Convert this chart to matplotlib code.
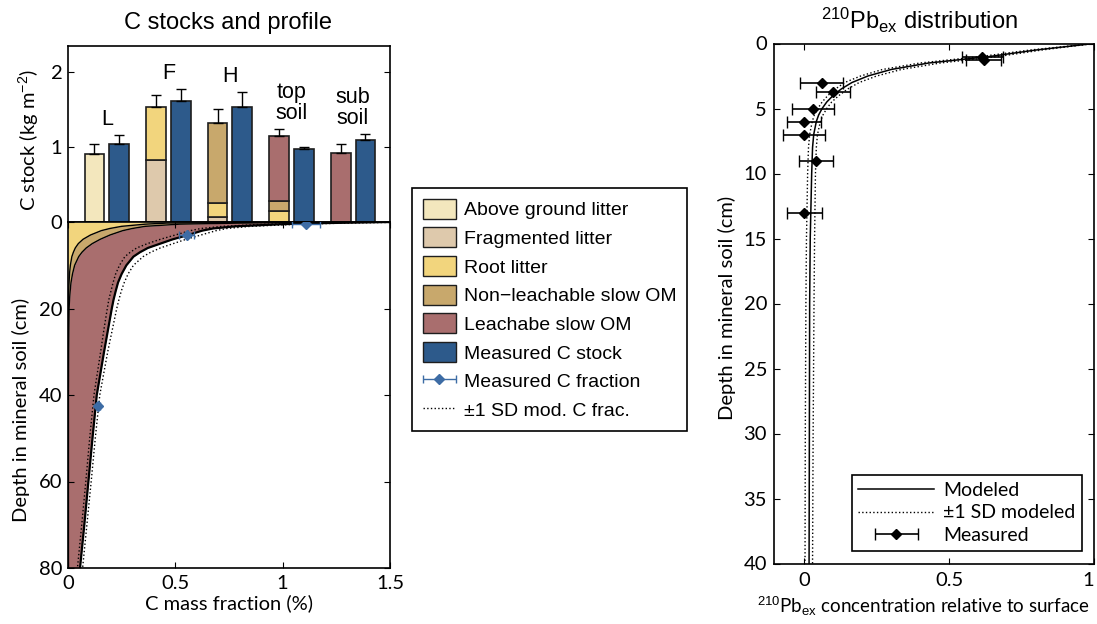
import matplotlib
matplotlib.use('Agg')
import matplotlib.pyplot as plt
from matplotlib.patches import Patch
from matplotlib.lines import Line2D
from matplotlib.legend_handler import HandlerErrorbar
import numpy as np

plt.rcParams['font.family'] = ['Lato', 'DejaVu Sans']
plt.rcParams['font.size'] = 14.5
plt.rcParams['mathtext.fontset'] = 'custom'
plt.rcParams['mathtext.rm'] = 'Liberation Sans'
plt.rcParams['mathtext.it'] = 'Liberation Sans:italic'
plt.rcParams['axes.linewidth'] = 1.2
plt.rcParams['xtick.direction'] = 'in'
plt.rcParams['ytick.direction'] = 'in'
plt.rcParams['xtick.major.size'] = 4
plt.rcParams['ytick.major.size'] = 4
plt.rcParams['xtick.major.pad'] = 5
plt.rcParams['ytick.major.pad'] = 4

ARIAL = 'Liberation Sans'

# ---- C stocks (kg m-2) per horizon ----
groups = ['L', 'F', 'H', 'top\nsoil', 'sub\nsoil']
above_ground = [0.91, 0.0, 0.0, 0.0, 0.0]
fragmented = [0.0, 0.83, 0.07, 0.0, 0.0]
root_litter = [0.0, 0.70, 0.185, 0.15, 0.0]
nonleach_om = [0.0, 0.0, 1.07, 0.13, 0.0]
leach_om = [0.0, 0.0, 0.0, 0.87, 0.925]
model_err = [0.13, 0.17, 0.18, 0.095, 0.11]
meas_stock = [1.035, 1.61, 1.535, 0.97, 1.10]
meas_err = [0.13, 0.16, 0.20, 0.035, 0.07]

# ---- modelled C mass fraction profile (%) ----
depth_c = [0, 0.25, 0.5, 1, 1.5, 2, 3, 4, 5, 6, 7, 8, 10, 12, 14, 16, 18, 20, 25, 30, 40, 50, 60, 70, 80]
cum_root = [1.1, 0.46, 0.36, 0.25, 0.195, 0.155, 0.105, 0.07, 0.048, 0.034, 0.025, 0.018, 0.011, 0.007,
            0.005, 0.003, 0.002, 0.002, 0.001, 0.001, 0.001, 0.001, 0.001, 0.001, 0.001]
cum_nonleach = [1.3, 0.8, 0.52, 0.36, 0.30, 0.255, 0.196, 0.15, 0.113, 0.085, 0.065, 0.05, 0.031, 0.021,
                0.014, 0.01, 0.007, 0.005, 0.004, 0.003, 0.002, 0.002, 0.002, 0.002, 0.002]
c_total = [1.5, 1.2, 1.0, 0.78, 0.675, 0.625, 0.56, 0.488, 0.43, 0.372, 0.335, 0.305, 0.272, 0.25,
           0.233, 0.222, 0.212, 0.204, 0.186, 0.168, 0.134, 0.114, 0.095, 0.076, 0.056]
c_lo = [1.4, 1.1, 0.92, 0.72, 0.62, 0.57, 0.50, 0.43, 0.37, 0.32, 0.29, 0.265, 0.24, 0.222,
        0.21, 0.20, 0.19, 0.183, 0.167, 0.152, 0.121, 0.101, 0.083, 0.064, 0.044]
c_hi = [1.6, 1.3, 1.08, 0.85, 0.74, 0.69, 0.62, 0.55, 0.49, 0.43, 0.385, 0.35, 0.305, 0.28,
        0.262, 0.248, 0.237, 0.227, 0.206, 0.185, 0.148, 0.127, 0.108, 0.088, 0.068]
cfrac_meas = [1.11, 0.553, 0.141]
cfrac_depth = [0.4, 3.0, 42.5]
cfrac_err = [0.065, 0.035, 0.01]

# ---- 210Pb_ex ----
depth_pb = [0, 0.5, 1, 1.5, 2, 2.5, 3, 3.5, 4, 4.5, 5, 5.5, 6, 7, 8, 10, 15, 20, 30, 40]
pb_model = [1.0, 0.80, 0.64, 0.43, 0.30, 0.22, 0.165, 0.128, 0.10, 0.078, 0.062, 0.05, 0.042, 0.033,
            0.029, 0.026, 0.021, 0.019, 0.018, 0.017]
pb_hi = [1.0, 0.82, 0.67, 0.47, 0.335, 0.25, 0.19, 0.15, 0.12, 0.095, 0.078, 0.065, 0.056, 0.046,
         0.042, 0.039, 0.036, 0.034, 0.031, 0.029]
pb_lo = [1.0, 0.78, 0.61, 0.40, 0.27, 0.195, 0.14, 0.108, 0.082, 0.062, 0.047, 0.035, 0.028, 0.019,
         0.015, 0.012, 0.008, 0.006, 0.004, 0.003]
pb_meas = [0.615, 0.62, 0.06, 0.10, 0.03, 0.0, 0.0, 0.04, 0.0]
pb_meas_depth = [1.0, 1.25, 3.0, 3.7, 5.0, 6.0, 7.0, 9.0, 13.0]
pb_meas_err = [0.072, 0.06, 0.073, 0.059, 0.072, 0.058, 0.073, 0.059, 0.06]

col_above = '#f3e7bd'
col_frag = '#dec9ac'
col_root = '#f2d57d'
col_nonleach = '#c8a86c'
col_leach = '#a96e6e'
col_meas = '#2d5a8b'
col_frac = '#3d6ca5'
edge = '#1e1e1e'

W, H = 1097, 624
fig = plt.figure(figsize=(W / 100, H / 100), dpi=100)
ax_bar = fig.add_axes([68 / W, 1 - 222 / H, 322 / W, 176 / H])
ax_pro = fig.add_axes([68 / W, 1 - 568 / H, 322 / W, 346 / H])
ax_pb = fig.add_axes([774 / W, 1 - 563.5 / H, 320 / W, 520 / H])

# stacked modelled bars + measured bars
x = np.arange(len(groups))
bw = 0.32
bottom = np.zeros(len(groups))
for vals, col in [(above_ground, col_above), (fragmented, col_frag), (root_litter, col_root),
                  (nonleach_om, col_nonleach), (leach_om, col_leach)]:
    vals = np.array(vals)
    m = vals > 0
    ax_bar.bar(x[m] - 0.2, vals[m], bw, bottom=bottom[m], color=col, edgecolor=edge, lw=1.2)
    bottom += vals
ax_bar.errorbar(x - 0.2, bottom, yerr=[np.zeros(len(groups)), model_err], fmt='none',
                ecolor='k', elinewidth=1, capsize=3.5)
ax_bar.bar(x + 0.2, meas_stock, bw, color=col_meas, edgecolor=edge, lw=1.2)
ax_bar.errorbar(x + 0.2, meas_stock, yerr=[np.zeros(len(groups)), meas_err], fmt='none',
                ecolor='k', elinewidth=1, capsize=3.5)
tops = np.maximum(bottom + np.array(model_err), np.array(meas_stock) + np.array(meas_err))
for i, g in enumerate(groups):
    ax_bar.text(x[i], tops[i] + 0.07, g, ha='center', va='bottom', family=ARIAL, fontsize=15.5,
                linespacing=1.0)
ax_bar.set_xlim(-0.63, 4.6)
ax_bar.set_ylim(0, 2.35)
ax_bar.set_yticks([0, 1, 2])
ax_bar.tick_params(axis='x', bottom=False, labelbottom=False)
ax_bar.tick_params(axis='y', right=True)

# profile
ax_pro.fill_betweenx(depth_c, 0, cum_root, color=col_root, lw=0)
ax_pro.fill_betweenx(depth_c, cum_root, cum_nonleach, color=col_nonleach, lw=0)
ax_pro.fill_betweenx(depth_c, cum_nonleach, c_total, color=col_leach, lw=0)
ax_pro.plot(cum_root, depth_c, color='k', lw=1)
ax_pro.plot(cum_nonleach, depth_c, color='k', lw=1)
ax_pro.plot(c_total, depth_c, color='k', lw=1.6)
ax_pro.plot(c_lo, depth_c, color='k', lw=1, ls=':')
ax_pro.plot(c_hi, depth_c, color='k', lw=1, ls=':')
eb_frac = ax_pro.errorbar(cfrac_meas, cfrac_depth, xerr=cfrac_err, fmt='D', color=col_frac,
                          ms=5.5, capsize=3, elinewidth=1, zorder=5)
ax_pro.set_xlim(0, 1.5)
ax_pro.set_ylim(80, 0)
ax_pro.set_xticks([0, 0.5, 1, 1.5])
ax_pro.set_xticklabels(['0', '0.5', '1', '1.5'])
ax_pro.set_yticks([0, 20, 40, 60, 80])
ax_pro.set_yticklabels(['', '20', '40', '60', '80'])
ax_pro.tick_params(top=True, right=True)

# 210Pb panel
ax_pb.plot(pb_model, depth_pb, color='k', lw=1.1)
ax_pb.plot(pb_lo, depth_pb, color='k', lw=1, ls=':')
ax_pb.plot(pb_hi, depth_pb, color='k', lw=1, ls=':')
eb_pb = ax_pb.errorbar(pb_meas, pb_meas_depth, xerr=pb_meas_err, fmt='D', color='k', ms=5,
                       capsize=4.3, elinewidth=1.2)
ax_pb.set_xlim(-0.104, 1.0)
ax_pb.set_ylim(40, 0)
ax_pb.set_xticks([0, 0.5, 1])
ax_pb.set_xticklabels(['0', '0.5', '1'])
ax_pb.set_yticks(range(0, 41, 5))
ax_pb.tick_params(top=True, right=True)
ax_pb.tick_params(axis='x', pad=6)
ax_pb.tick_params(axis='y', pad=5)
ax_pb.get_xticklabels()[-1].set_horizontalalignment('right')

# labels
fig.text(228 / W, 1 - 29 / H, 'C stocks and profile', ha='center', va='baseline', family=ARIAL, fontsize=17)
fig.text(920 / W, 1 - 29 / H, r'$^{210}$Pb$_{\mathrm{ex}}$ distribution', ha='center', va='baseline',
         family=ARIAL, fontsize=17)
fig.text(229 / W, 1 - 609 / H, 'C mass fraction (%)', ha='center', va='baseline')
fig.text(923 / W, 1 - 613 / H, r'$^{210}$Pb$_{\mathrm{ex}}$ concentration relative to surface',
         ha='center', va='baseline', fontsize=13.5)
fig.text(29 / W, 1 - 140 / H, r'C stock (kg m$^{-2}$)', rotation=90, ha='center', va='center')
fig.text(21 / W, 1 - 410 / H, 'Depth in mineral soil (cm)', rotation=90, ha='center', va='center')
fig.text(727 / W, 1 - 308 / H, 'Depth in mineral soil (cm)', rotation=90, ha='center', va='center')

# legends
handles = [Patch(fc=col_above, ec=edge, lw=1), Patch(fc=col_frag, ec=edge, lw=1),
           Patch(fc=col_root, ec=edge, lw=1), Patch(fc=col_nonleach, ec=edge, lw=1),
           Patch(fc=col_leach, ec=edge, lw=1), Patch(fc=col_meas, ec=edge, lw=1),
           eb_frac, Line2D([], [], color='k', lw=1, ls=':')]
labels = ['Above ground litter', 'Fragmented litter', 'Root litter', 'Non\u2212leachable slow OM',
          'Leachabe slow OM', 'Measured C stock', 'Measured C fraction', '\u00b11 SD mod. C frac.']
leg = fig.legend(handles, labels, loc='upper left', bbox_to_anchor=(412 / W, 1 - 188 / H),
                 borderaxespad=0, fancybox=False, framealpha=1, edgecolor='k',
                 prop={'family': ARIAL, 'size': 14}, handlelength=1.7, handleheight=1.2,
                 labelspacing=0.42, borderpad=0.55, handletextpad=0.4,
                 handler_map={eb_frac: HandlerErrorbar(xerr_size=0.85)})
leg.get_frame().set_linewidth(1.2)

h2 = [Line2D([], [], color='k', lw=1.1), Line2D([], [], color='k', lw=1, ls=':'), eb_pb]
leg2 = ax_pb.legend(h2, ['Modeled', '\u00b11 SD modeled', 'Measured'], loc='lower right',
                    bbox_to_anchor=(0.9626, 0.024), borderaxespad=0, fancybox=False,
                    framealpha=1, edgecolor='k', handlelength=3.9, handletextpad=0.45,
                    labelspacing=0.3, borderpad=0.35, fontsize=14,
                    handler_map={eb_pb: HandlerErrorbar(xerr_size=1.1)})
leg2.get_frame().set_linewidth(1.2)

fig.savefig('out.png', dpi=100)
